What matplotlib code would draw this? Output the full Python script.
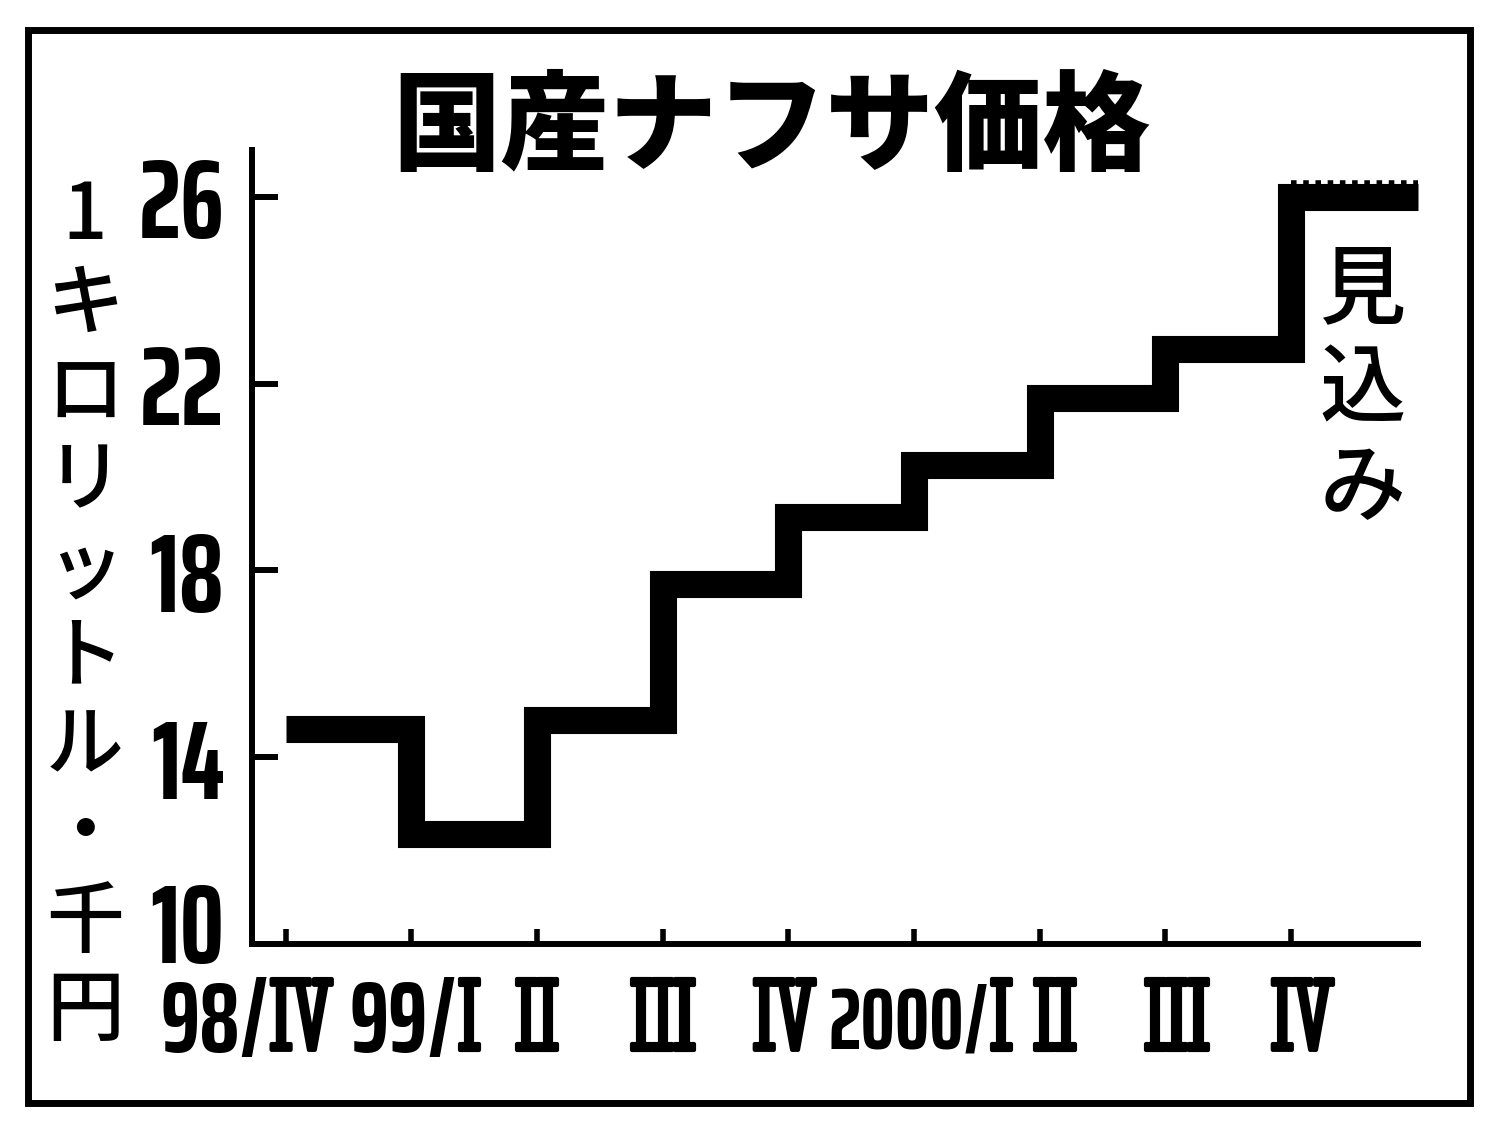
import matplotlib
matplotlib.use("Agg")
import matplotlib.pyplot as plt
from matplotlib import font_manager, patheffects
from matplotlib.patches import Rectangle
from matplotlib.transforms import offset_copy, ScaledTranslation

# quarterly domestic naphtha price, thousand yen per kilolitre
prefixes = ['98/', '99/', '', '', '', '2000/', '', '', '']
numerals = ['IV', 'I', 'II', 'III', 'IV', 'I', 'II', 'III', 'IV']
prices = [14.6, 12.35, 14.8, 17.7, 19.15, 20.25, 21.7, 22.75, 26.0]
yticks = [10, 14, 18, 22, 26]

avail = {f.name for f in font_manager.fontManager.ttflist}
num_font = next((n for n in ['Saira ExtraCondensed', 'Roboto Condensed'] if n in avail), None)
if num_font:
    num_kw = dict(family=num_font, fontweight='bold', fontsize=80)
    lab_kw = dict(family=num_font, fontweight='bold')
    lab_size = 72
else:
    num_kw = dict(family='DejaVu Sans', fontstretch='condensed', fontweight='bold', fontsize=58)
    lab_kw = dict(family='DejaVu Sans', fontstretch='condensed', fontweight='bold')
    lab_size = 50
rom_font = 'Stint Ultra Condensed' if 'Stint Ultra Condensed' in avail else 'DejaVu Serif'
rom_kw = dict(family=rom_font, fontsize=76, fontweight='bold',
              path_effects=[patheffects.withStroke(linewidth=3, foreground='black')])
jp = ['Noto Sans CJK JP', 'DejaVu Sans']

fig = plt.figure(figsize=(15.06, 11.28), dpi=100)
ax = fig.add_axes([252 / 1506, 1 - 944 / 1128, (1418 - 252) / 1506, (944 - 150) / 1128])

x_right = 9.01
xs = list(range(len(prices))) + [x_right]
ys = prices + [prices[-1]]
ax.step(xs, ys, where='post', color='black', lw=19.5,
        solid_joinstyle='miter', solid_capstyle='butt', clip_on=False)
# ragged top edge of the forecast step
ax.plot([len(prices) - 1, x_right], [prices[-1], prices[-1]], color='black', lw=4,
        ls=(0, (1, 1.2)), clip_on=False,
        transform=offset_copy(ax.transData, fig=fig, y=14, units='dots'))

ax.set_xlim(-0.267, x_right)
ax.set_ylim(10, 27.0)
for s in ['top', 'right']:
    ax.spines[s].set_visible(False)
for s in ['left', 'bottom']:
    ax.spines[s].set_linewidth(4.3)

ax.set_yticks(yticks)
ax.set_yticklabels([str(v) for v in yticks], **num_kw)
ax.tick_params(axis='y', direction='in', length=19, width=4.3, pad=20)
# the bottom label sits a little above the axis line
lbl0 = ax.get_yticklabels()[0]
lbl0.set_transform(lbl0.get_transform() + ScaledTranslation(0, 16 / 72, fig.dpi_scale_trans))
ax.set_xticks(range(len(prices)))
ax.set_xticklabels([''] * len(prices))
ax.tick_params(axis='x', direction='in', length=11, width=4)

# quarter labels: year prefix in sans, quarter numeral in serif
shift = [-11, 34, 0, 0, -3, 55, 11, 8, 8]
for i, (pre, rom) in enumerate(zip(prefixes, numerals)):
    tr = ax.get_xaxis_transform()
    if pre:
        size = lab_size if len(pre) < 4 else lab_size * 0.86
        ax.annotate(pre, xy=(i, 0), xycoords=tr, xytext=(shift[i] - 1, -58),
                    textcoords='offset points', ha='right', va='center',
                    fontsize=size, **lab_kw)
        ax.annotate(rom, xy=(i, 0), xycoords=tr, xytext=(shift[i], -58),
                    textcoords='offset points', ha='left', va='center', **rom_kw)
    else:
        ax.annotate(rom, xy=(i, 0), xycoords=tr, xytext=(shift[i], -58),
                    textcoords='offset points', ha='center', va='center', **rom_kw)

fig.text(772 / 1506, 1 - 130 / 1128, '国産ナフサ価格', ha='center', va='center',
         fontsize=78, fontweight='heavy', family=jp)
fig.text(85 / 1506, 1 - 614 / 1128, '\n'.join('1キロリットル・千円'), ha='center',
         va='center', fontsize=56, fontweight='medium', linespacing=1.15, family=jp)
fig.text(1363 / 1506, 1 - 390 / 1128, '\n'.join('見込み'), ha='center', va='center',
         fontsize=62, fontweight='medium', linespacing=1.16, family=jp)

fig.add_artist(Rectangle((28 / 1506, 1 - 1103 / 1128), (1470 - 28) / 1506, (1103 - 30) / 1128,
                         transform=fig.transFigure, fill=False, lw=5, ec='black'))

fig.savefig('out.png', dpi=100, facecolor='white')
